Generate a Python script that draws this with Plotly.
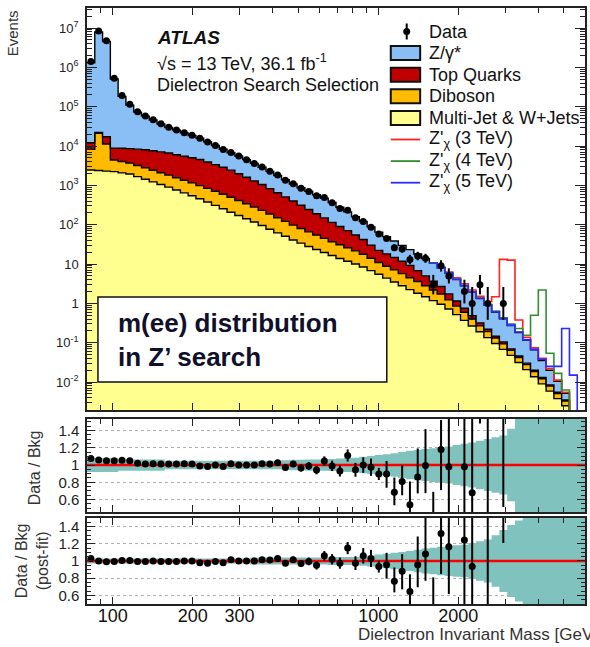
import math
import plotly.graph_objects as go

# ---------------- data ----------------
mass_edges = [80.0, 85.58, 91.56, 97.95, 104.78, 112.09, 119.92, 128.28, 137.24, 146.81,
              157.06, 168.02, 179.75, 192.29, 205.71, 220.07, 235.43, 251.86, 269.44, 288.24,
              308.36, 329.88, 352.90, 377.53, 403.88, 432.07, 462.22, 494.48, 528.99, 565.91,
              605.40, 647.65, 692.85, 741.21, 792.94, 848.28, 907.48, 970.81, 1038.6, 1111.0,
              1188.6, 1271.5, 1360.3, 1455.2, 1556.8, 1665.4, 1781.7, 1906.0, 2039.0, 2181.3,
              2333.6, 2496.4, 2670.7, 2857.1, 3056.5, 3269.8, 3498.0, 3742.1, 4003.3, 4282.7,
              4581.6, 4901.4, 5243.4, 5609.4, 6000.0]

data_counts = [1410000, 8370000, 4770000, 530000, 193000, 115500, 74560, 58490, 46740, 36940,
               30060, 25700, 21950, 18820, 15740, 12670, 10350, 8130, 6860, 5570,
               4510, 3630, 2946, 2297, 1825, 1348, 1099, 842, 701, 544,
               491, 364, 260, 235, 151, 121, 86, 58, 45, 26,
               24, 13, 16, 14, 3, 9, 5, 0, 2, 1,
               3, 1, 0, 1, 0, 0, 0, 0, 0, 0,
               0, 0, 0, 0]

z_gamma = [1300000, 7888000, 4523000, 496000, 174200, 101400, 64760, 49750, 38410, 29390,
           23060, 19360, 16070, 13560, 11340, 8980, 6980, 5390, 4310, 3600,
           2900, 2330, 1845, 1440, 1127, 879, 684, 559, 464, 387,
           321, 253, 189, 141, 105, 79, 57.7, 42.4, 31.8, 23.8,
           18.1, 14.05, 11.2, 8.8, 6.83, 5.35, 4.11, 2.91, 2.06, 1.45,
           1.01, 0.68, 0.457, 0.301, 0.204, 0.136, 0.087, 0.046, 0.0224, 0.0115,
           0.005, 0.0017, 0, 0]

top_quarks = [3890, 990, 5970, 4485, 4754, 4932, 5134, 5264, 5169, 5006,
              4812, 4469, 4181, 3881, 3571, 3081, 2662, 2292, 1939, 1556,
              1269, 1019, 823, 643, 503, 389, 304, 234, 178, 136,
              104, 78, 59, 45, 33.4, 24.2, 16.4, 11.3, 9.4, 7.7,
              6.1, 4.75, 3.2, 2.2, 1.47, 0.96, 0.52, 0.295, 0.156, 0.088,
              0.049, 0.028, 0.016, 0.012, 0.006, 0.004, 0.0025, 0.0015, 0.001, 0.0006,
              0.0004, 0.0002, 0, 0]

diboson = [5785, 18660, 8940, 2160, 1956, 1757, 1539, 1354, 1193, 1050,
           922, 806, 704, 611, 530, 461, 398, 344, 293, 242,
           199, 164, 136, 110, 88, 71, 57, 46, 38, 31.1,
           25.4, 20.5, 17.1, 14.2, 11.6, 9.4, 7.2, 5.5, 4.4, 3.6,
           2.9, 2.26, 1.79, 1.33, 1.02, 0.78, 0.51, 0.335, 0.224, 0.135,
           0.080, 0.057, 0.036, 0.0255, 0.0162, 0.0107, 0.0071, 0.0047, 0.0031, 0.0020,
           0.0013, 0.0008, 0, 0]

multijet = [2455, 2383, 2312, 2244, 2080, 1941, 1667, 1432, 1228, 1054,
            906, 765, 645, 548, 459, 378, 310, 254, 208, 172,
            142, 117, 96, 77, 62, 51, 41, 34, 28, 23.5,
            19.6, 16.5, 13.9, 11.8, 10.0, 8.4, 6.8, 5.5, 4.4, 3.5,
            2.8, 2.24, 1.81, 1.47, 1.18, 0.95, 0.72, 0.52, 0.37, 0.267,
            0.191, 0.135, 0.0957, 0.0678, 0.0476, 0.0315, 0.0207, 0.0137, 0.009, 0.0059,
            0.0038, 0.0025, 0, 0]

# signal + background, drawn from bin 44 onwards
signal_first_bin = 44
zp_3tev = [10.7, 8.3, 6.3, 4.47, 3.16, 2.19, 1.51, 1.12, 1.48, 13.2,
           12.6, 0.38, 0.138, 0.074, 0.040, 0.022, 0.0112, 0.0055, 0, 0]
zp_4tev = [10.6, 8.13, 5.96, 4.12, 2.85, 1.97, 1.36, 0.93, 0.63, 0.43,
           0.30, 0.23, 0.155, 0.50, 2.19, 0.054, 0.0166, 0.0063, 0, 0]
zp_5tev = [10.6, 8.12, 5.92, 4.10, 2.84, 1.96, 1.35, 0.92, 0.62, 0.415,
           0.28, 0.187, 0.12, 0.068, 0.038, 0.025, 0.025, 0.23, 0.015, 0]

ratio_pre = [1.075, 1.058, 1.05, 1.05, 1.055, 1.05, 1.02, 1.012, 1.016, 1.012,
             1.012, 1.012, 1.016, 1.012, 0.99, 0.982, 1.0, 0.982, 1.016, 1.0,
             1.0, 1.0, 1.016, 1.012, 1.025, 0.97, 1.012, 0.965, 0.99, 0.942,
             1.045, 0.99, 0.932, 1.11, 0.945, 1.0, 0.975, 0.897, 0.897, 0.685,
             0.81, 0.54, 0.862, 0.995, 0.30, 1.18, 0.98, None, 0.98, 0.68,
             3.0, 1.8, None, 2.4, None, None, None, None, None, None,
             None, None, None, None]
ratio_pre_up = [0.003, 0.002, 0.002, 0.003, 0.004, 0.005, 0.006, 0.006, 0.007, 0.008,
                0.008, 0.009, 0.010, 0.011, 0.012, 0.013, 0.014, 0.016, 0.017, 0.019,
                0.020, 0.022, 0.025, 0.027, 0.030, 0.033, 0.037, 0.040, 0.045, 0.050,
                0.055, 0.060, 0.065, 0.070, 0.080, 0.090, 0.10, 0.07, 0.15, 0.17,
                0.19, 0.27, 0.33, 0.42, 0.39, 0.34, 1.0, 0, 1.5, 1.5,
                3.0, 3.0, 0, 3.0, 0, 0, 0, 0, 0, 0,
                0, 0, 0, 0]
ratio_pre_dn = [0.003, 0.002, 0.002, 0.003, 0.004, 0.005, 0.006, 0.006, 0.007, 0.008,
                0.008, 0.009, 0.010, 0.011, 0.012, 0.013, 0.014, 0.016, 0.017, 0.019,
                0.020, 0.022, 0.025, 0.027, 0.030, 0.033, 0.037, 0.040, 0.045, 0.050,
                0.055, 0.060, 0.065, 0.070, 0.080, 0.090, 0.10, 0.07, 0.16, 0.15,
                0.16, 0.20, 0.19, 0.32, 0.30, 0.47, 0.8, 0, 0.9, 0.6,
                1.52, 1.5, 0, 1.885, 0, 0, 0, 0, 0, 0,
                0, 0, 0, 0]

ratio_post = [1.03, 1.0, 0.99, 0.995, 1.005, 1.005, 0.995, 0.995, 1.0, 0.995,
              0.995, 0.995, 1.0, 1.0, 0.98, 0.975, 0.995, 0.98, 1.015, 1.0,
              1.0, 1.0, 1.015, 1.012, 1.03, 0.975, 1.015, 0.97, 0.995, 0.95,
              1.06, 1.02, 0.975, 1.15, 0.975, 1.06, 1.03, 0.935, 0.955, 0.765,
              0.88, 0.645, 0.955, 1.08, 0.35, 1.32, 1.165, None, 1.245, 0.935,
              3.0, 2.0, None, 3.0, None, None, None, None, None, None,
              None, None, None, None]
ratio_post_up = [0.003, 0.002, 0.002, 0.003, 0.004, 0.005, 0.006, 0.006, 0.007, 0.008,
                 0.008, 0.009, 0.010, 0.011, 0.012, 0.013, 0.014, 0.016, 0.017, 0.019,
                 0.020, 0.022, 0.025, 0.027, 0.030, 0.033, 0.037, 0.040, 0.045, 0.050,
                 0.055, 0.060, 0.065, 0.070, 0.080, 0.090, 0.10, 0.07, 0.14, 0.16,
                 0.20, 0.20, 0.33, 0.42, 0.46, 0.40, 1.0, 0, 1.5, 1.5,
                 3.0, 3.0, 0, 3.0, 0, 0, 0, 0, 0, 0,
                 0, 0, 0, 0]
ratio_post_dn = [0.003, 0.002, 0.002, 0.003, 0.004, 0.005, 0.006, 0.006, 0.007, 0.008,
                 0.008, 0.009, 0.010, 0.011, 0.012, 0.013, 0.014, 0.016, 0.017, 0.019,
                 0.020, 0.022, 0.025, 0.027, 0.030, 0.033, 0.037, 0.040, 0.045, 0.050,
                 0.055, 0.060, 0.065, 0.070, 0.080, 0.090, 0.10, 0.07, 0.16, 0.13,
                 0.21, 0.20, 0.26, 0.31, 0.30, 0.47, 0.55, 0, 1.0, 0.9,
                 1.45, 1.7, 0, 1.79, 0, 0, 0, 0, 0, 0,
                 0, 0, 0, 0]

unc_pre = [0.08, 0.08, 0.08, 0.08, 0.065, 0.065, 0.065, 0.065, 0.065, 0.065,
           0.05, 0.05, 0.05, 0.05, 0.05, 0.05, 0.05, 0.05, 0.05, 0.05,
           0.05, 0.05, 0.05, 0.05, 0.05, 0.055, 0.06, 0.06, 0.065, 0.065,
           0.065, 0.07, 0.075, 0.08, 0.085, 0.095, 0.105, 0.115, 0.125, 0.135,
           0.15, 0.165, 0.175, 0.185, 0.195, 0.205, 0.215, 0.23, 0.245, 0.26,
           0.28, 0.30, 0.32, 0.34, 0.42, 0.55, 1.0, 1.0, 1.0, 1.0,
           1.0, 1.0, 1.0, 1.0]
unc_post = [0.03, 0.03, 0.03, 0.03, 0.03, 0.03, 0.03, 0.03, 0.03, 0.03,
            0.03, 0.03, 0.03, 0.03, 0.03, 0.03, 0.03, 0.03, 0.03, 0.03,
            0.03, 0.04, 0.04, 0.04, 0.04, 0.04, 0.04, 0.04, 0.04, 0.04,
            0.04, 0.047, 0.047, 0.047, 0.047, 0.055, 0.065, 0.075, 0.085, 0.095,
            0.105, 0.115, 0.13, 0.145, 0.155, 0.165, 0.175, 0.183, 0.19, 0.21,
            0.23, 0.25, 0.30, 0.36, 0.42, 0.47, 1.0, 1.0, 1.0, 1.0,
            1.0, 1.0, 1.0, 1.0]

x_tick_vals = [100, 200, 300, 1000, 2000]
x_tick_text = ["100", "200", "300", "1000", "2000"]
x_minor_vals = [90, 400, 500, 600, 700, 800, 900, 3000, 4000, 5000]

# ---------------- styling ----------------
FONT = "Liberation Sans, Arial, Helvetica, sans-serif"
C_Z = "#8abff5"
C_TOP = "#c00000"
C_DIB = "#ffbb00"
C_MJ = "#ffff8f"
C_BAND = "#80c2bd"
AX = "#222222"
FLOOR = 1e-6

nb = len(mass_edges) - 1
centers = [math.sqrt(mass_edges[i] * mass_edges[i + 1]) for i in range(nb)]


def step(vals):
    v = [x if (x is not None and x > 0) else FLOOR for x in vals]
    return v + [v[-1]]


fig = go.Figure()

# ---- stacked backgrounds ----
cum1 = list(multijet)
cum2 = [a + b for a, b in zip(cum1, diboson)]
cum3 = [a + b for a, b in zip(cum2, top_quarks)]
cum4 = [a + b for a, b in zip(cum3, z_gamma)]

fig.add_trace(go.Scatter(x=mass_edges, y=[FLOOR] * (nb + 1), mode="lines",
                         line=dict(width=0, shape="hv"), hoverinfo="skip",
                         xaxis="x", yaxis="y"))
for vals, col in [(cum1, C_MJ), (cum2, C_DIB), (cum3, C_TOP), (cum4, C_Z)]:
    fig.add_trace(go.Scatter(x=mass_edges, y=step(vals), mode="lines",
                             line=dict(color="black", width=1.4, shape="hv"),
                             fill="tonexty", fillcolor=col, hoverinfo="skip",
                             xaxis="x", yaxis="y"))

# ---- signals ----
sig_edges = mass_edges[signal_first_bin:]
for vals, col in [(zp_3tev, "#ff2020"), (zp_4tev, "#2f8f2f"), (zp_5tev, "#2a2aff")]:
    fig.add_trace(go.Scatter(x=sig_edges, y=step(vals), mode="lines",
                             line=dict(color=col, width=1.6, shape="hv"),
                             hoverinfo="skip", xaxis="x", yaxis="y"))

# ---- data ----
dx, dy, dup, ddn = [], [], [], []
for c, n in zip(centers, data_counts):
    if n > 0:
        dx.append(c)
        dy.append(n)
        s = math.sqrt(n + 0.25)
        dup.append(s + 0.5)
        ddn.append(s - 0.5)
fig.add_trace(go.Scatter(x=dx, y=dy, mode="markers",
                         marker=dict(color="black", size=7),
                         error_y=dict(type="data", array=dup, arrayminus=ddn,
                                      color="black", thickness=2, width=0),
                         xaxis="x", yaxis="y"))


# ---- ratio panels ----
def ratio_panel(xa, ya, ratio, up, dn, unc):
    fig.add_trace(go.Scatter(x=mass_edges, y=step([1 - u for u in unc]), mode="lines",
                             line=dict(width=0, shape="hv"), hoverinfo="skip",
                             xaxis=xa, yaxis=ya))
    fig.add_trace(go.Scatter(x=mass_edges, y=step([1 + u for u in unc]), mode="lines",
                             line=dict(width=0, shape="hv"), fill="tonexty",
                             fillcolor=C_BAND, hoverinfo="skip", xaxis=xa, yaxis=ya))
    fig.add_trace(go.Scatter(x=[mass_edges[0], mass_edges[-1]], y=[1, 1], mode="lines",
                             line=dict(color="#ff0000", width=2.6), hoverinfo="skip",
                             xaxis=xa, yaxis=ya))
    rx, ry, ru, rd = [], [], [], []
    for c, r, u, d in zip(centers, ratio, up, dn):
        if r is not None:
            rx.append(c)
            ry.append(r)
            ru.append(u)
            rd.append(d)
    fig.add_trace(go.Scatter(x=rx, y=ry, mode="markers",
                             marker=dict(color="black", size=7),
                             error_y=dict(type="data", array=ru, arrayminus=rd,
                                          color="black", thickness=2, width=0),
                             xaxis=xa, yaxis=ya))


ratio_panel("x2", "y2", ratio_pre, ratio_pre_up, ratio_pre_dn, unc_pre)
ratio_panel("x3", "y3", ratio_post, ratio_post_up, ratio_post_dn, unc_post)

# ---------------- axes ----------------
xr = [math.log10(mass_edges[0]), math.log10(mass_edges[-1])]


def xaxis(anchor, labels):
    return dict(type="log", range=xr, anchor=anchor, domain=[0, 1],
                tickvals=x_tick_vals, ticktext=x_tick_text, showticklabels=labels,
                ticks="inside", ticklen=7, tickwidth=1, tickcolor=AX,
                minor=dict(tickvals=x_minor_vals, ticks="inside", ticklen=5, tickcolor=AX),
                showline=True, linecolor=AX, linewidth=1.5, mirror="ticks",
                showgrid=False, zeroline=False, ticklabelstandoff=-5,
                tickfont=dict(family=FONT, size=18, color="#111"))


ymain_vals = [10.0 ** e for e in range(-2, 8)]
ymain_text = ["10<sup>-2</sup>", "10<sup>-1</sup>", "1", "10", "10<sup>2</sup>",
              "10<sup>3</sup>", "10<sup>4</sup>", "10<sup>5</sup>", "10<sup>6</sup>",
              "10<sup>7</sup>"]
ymain_minor = [k * 10.0 ** e for e in range(-3, 8) for k in range(2, 10)]


def ratio_axis(domain, rng, anchor):
    return dict(domain=domain, range=rng, anchor=anchor,
                tickvals=[0.6, 0.8, 1.0, 1.2, 1.4], ticktext=["0.6", "0.8", "1", "1.2", "1.4"],
                ticks="inside", ticklen=8, tickcolor=AX,
                minor=dict(dtick=0.05, ticks="inside", ticklen=4, tickcolor=AX, showgrid=False),
                showline=True, linecolor=AX, linewidth=1.5, mirror="ticks",
                showgrid=True, gridcolor="#b0b0b0", griddash="dot", gridwidth=1,
                zeroline=False, ticklabelstandoff=3,
                tickfont=dict(family=FONT, size=15, color="#222"))


def px_x(p):
    return (p - 87) / 500.0


def px_y(p):
    return (604 - p) / 596.0


layout = dict(
    width=590, height=647,
    margin=dict(l=87, r=3, t=8, b=43),
    paper_bgcolor="white", plot_bgcolor="white",
    showlegend=False,
    font=dict(family=FONT, color="#111"),
    xaxis=xaxis("y", False),
    xaxis2=xaxis("y2", False),
    xaxis3=xaxis("y3", True),
    yaxis=dict(domain=[0.3255, 1.0], type="log", range=[-2.71, 7.51], anchor="x",
               tickvals=ymain_vals, ticktext=ymain_text,
               ticks="inside", ticklen=10, tickcolor=AX,
               minor=dict(tickvals=ymain_minor, ticks="inside", ticklen=5, tickcolor=AX),
               showline=True, linecolor=AX, linewidth=1.5, mirror="ticks",
               showgrid=False, zeroline=False, ticklabelstandoff=4,
               tickfont=dict(family=FONT, size=13, color="#222")),
    yaxis2=ratio_axis([0.1544, 0.3104], [0.457, 1.532], "x2"),
    yaxis3=ratio_axis([0.0, 0.1443], [0.5, 1.5], "x3"),
)
fig.update_layout(**layout)

ann = []
shapes = []


def text(x, y, s, size=18, xanchor="left", yanchor="middle", angle=0, color="#111", **kw):
    ann.append(dict(xref="paper", yref="paper", x=x, y=y, text=s, showarrow=False,
                    xanchor=xanchor, yanchor=yanchor, textangle=angle,
                    font=dict(family=FONT, size=size, color=color), **kw))


# ATLAS labels
text(px_x(155), px_y(38), "<b><i>ATLAS</i></b>", size=19)
text(px_x(155), px_y(62), "√s = 13 TeV, 36.1 fb<sup>-1</sup>", size=18)
text(px_x(155), px_y(85), "Dielectron Search Selection", size=18)

# legend
leg_y = [31.5, 53.1, 74.7, 96.3, 117.9, 139.5, 161.1, 182.7]
leg_txt = ["Data", "Z/γ*", "Top Quarks", "Diboson", "Multi-Jet &amp; W+Jets",
           "Z'<sub>χ</sub> (3 TeV)", "Z'<sub>χ</sub> (4 TeV)", "Z'<sub>χ</sub> (5 TeV)"]
for yy, t in zip(leg_y, leg_txt):
    text(px_x(428), px_y(yy), t, size=18)
for yy, col in zip(leg_y[1:5], [C_Z, C_TOP, C_DIB, C_MJ]):
    shapes.append(dict(type="rect", xref="paper", yref="paper",
                       x0=px_x(392), x1=px_x(421.5), y0=px_y(yy + 7), y1=px_y(yy - 7),
                       fillcolor=col, line=dict(color="#111", width=2)))
for yy, col in zip(leg_y[5:], ["#ff2020", "#2f8f2f", "#2a2aff"]):
    shapes.append(dict(type="line", xref="paper", yref="paper",
                       x0=px_x(392), x1=px_x(421.5), y0=px_y(yy), y1=px_y(yy),
                       line=dict(color=col, width=1.8)))
shapes.append(dict(type="line", xref="paper", yref="paper",
                   x0=px_x(408), x1=px_x(408), y0=px_y(leg_y[0] + 8), y1=px_y(leg_y[0] - 8),
                   line=dict(color="black", width=2)))
shapes.append(dict(type="circle", xref="paper", yref="paper",
                   x0=px_x(404.5), x1=px_x(411.5), y0=px_y(leg_y[0] + 3.5), y1=px_y(leg_y[0] - 3.5),
                   fillcolor="black", line=dict(color="black", width=0)))

# m(ee) box
shapes.append(dict(type="rect", xref="paper", yref="paper",
                   x0=px_x(98), x1=px_x(388), y0=px_y(382), y1=px_y(297),
                   fillcolor="white", line=dict(color="#111", width=1.5)))
text(px_x(116), px_y(340), "<b>m(ee) distribution<br>in Z’ search</b>", size=26,
     color="#10102a", align="left")

# axis titles
text(px_x(12), px_y(8), "Events", size=15, xanchor="center", yanchor="top", angle=-90,
     color="#333")
text(px_x(34), px_y(468), "Data / Bkg", size=16, xanchor="center", yanchor="middle",
     angle=-90, color="#333")
text(px_x(32), px_y(561), "Data / Bkg<br>(post-fit)", size=16, xanchor="center",
     yanchor="middle", angle=-90, color="#333")
text(px_x(357), px_y(634), "Dielectron Invariant Mass [GeV]", size=17, color="#333")

fig.update_layout(annotations=ann, shapes=shapes)
fig.write_html("out.html",
               config={"displayModeBar": False},
               post_script="document.body.style.margin='0px';"
                           "document.body.style.overflow='hidden';")
